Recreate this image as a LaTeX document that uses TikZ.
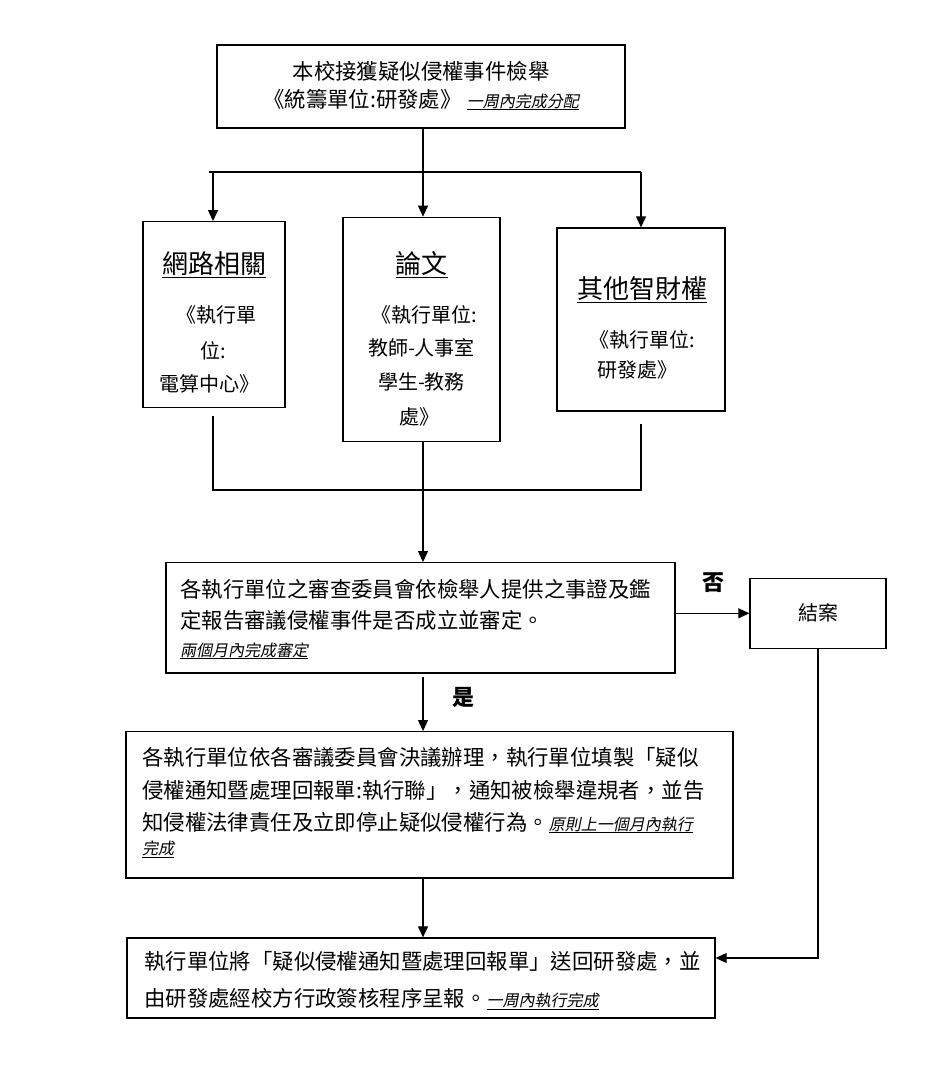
\documentclass[tikz,border=0pt]{standalone}
\usepackage{fontspec}
\setmainfont{Noto Sans CJK TC}
\newfontfamily\cjkit{Noto Sans CJK TC}[FakeSlant=0.2]
\usetikzlibrary{arrows.meta}
\newcommand\fsz[1]{\fontsize{#1}{#1}\selectfont}
\newcommand\uline[2][0.9pt]{\setbox0=\hbox{#2}\leavevmode\rlap{\raisebox{-0.2em}{\rule{\wd0}{#1}}}\box0}
\newcommand\notetext[1]{{\cjkit\fsz{16}\uline{#1}}}
\begin{document}
\begin{tikzpicture}[x=1pt,y=-1pt,
  box/.style={draw=black, line width=1.3pt, inner sep=0pt},
  conn/.style={draw=black, line width=1.1pt},
  arr/.style={conn, -{Triangle[width=10pt,length=11pt]}},
  ltxt/.style={inner sep=0pt, anchor=base west, font=\fsz{21.4}},
  ctxt/.style={inner sep=0pt, anchor=base, font=\fsz{20}},
  head/.style={inner sep=0pt, anchor=base, font=\fsz{26}},
  lbl/.style={inner sep=0pt, anchor=base, font=\fsz{22}\bfseries}]
\useasboundingbox (0,0) rectangle (932,1065);

% boxes
\node[box, line width=1.8pt, minimum width=408pt, minimum height=83pt] (top) at (421,86.5) {};
\node[box, minimum width=142pt, minimum height=185.6pt] (left) at (214,314.5) {};
\node[box, minimum width=157pt, minimum height=224.4pt] (cent) at (421.5,329.5) {};
\node[box, minimum width=168pt, minimum height=183pt] (right) at (641,319.5) {};
\node[box, minimum width=509pt, minimum height=110.3pt] (mid) at (420.5,617.85) {};
\node[box, minimum width=136pt, minimum height=70pt] (close) at (818,613.3) {};
\node[box, minimum width=607pt, minimum height=146.3pt] (act) at (429.5,804.85) {};
\node[box, minimum width=588pt, minimum height=80pt] (final) at (421,978) {};

% top box text
\node[ctxt, font=\fsz{21.4}] (t1) at (421,80) {本校接獲疑似侵權事件檢舉};
\node[ctxt, font=\fsz{21.4}] (t2) at (421,107) {《統籌單位:研發處》\hspace{5pt}\notetext{一周內完成分配}};

% left box text
\node[head] (l1) at (214,273.2) {\uline[1.8pt]{網路相關}};
\node[ctxt] (l2) at (216,322.6) {《執行單};
\node[ctxt] (l3) at (213,358.6) {位:};
\node[ctxt] (l4) at (209,391.6) {電算中心》};

% center box text
\node[head] (c1) at (421.5,273.2) {\uline[1.8pt]{論文}};
\node[ctxt] (c2) at (424,322.6) {《執行單位:};
\node[ctxt] (c3) at (421.5,355.9) {教師-人事室};
\node[ctxt] (c4) at (421.5,389.3) {學生-教務};
\node[ctxt] (c5) at (419,424.3) {處》};

% right box text
\node[head] (r1) at (642,298.2) {\uline[1.8pt]{其他智財權}};
\node[ctxt] (r2) at (642,347.6) {《執行單位:};
\node[ctxt] (r3) at (637,377.6) {研發處》};

% middle box text
\node[ltxt] (m1) at (180,597.4) {各執行單位之審查委員會依檢舉人提供之事證及鑑};
\node[ltxt] (m2) at (180,628.1) {定報告審議侵權事件是否成立並審定。};
\node[ltxt] (m3) at (180,656) {\notetext{兩個月內完成審定}};

% close box text
\node[ctxt] (k1) at (818,620.6) {結案};

% action box text
\node[ltxt] (a1) at (142,765.1) {各執行單位依各審議委員會決議辦理，執行單位填製「疑似};
\node[ltxt] (a2) at (142,798.1) {侵權通知暨處理回報單:執行聯」，通知被檢舉違規者，並告};
\node[ltxt] (a3) at (142,830.1) {知侵權法律責任及立即停止疑似侵權行為。\notetext{原則上一個月內執行}};
\node[ltxt] (a4) at (142,854.4) {\notetext{完成}};

% final box text
\node[ltxt] (f1) at (144,969.8) {執行單位將「疑似侵權通知暨處理回報單」送回研發處，並};
\node[ltxt] (f2) at (144,1006.4) {由研發處經校方行政簽核程序呈報。\notetext{一周內執行完成}};

% labels
\node[lbl] (no) at (713,590) {否};
\node[lbl] (yes) at (463,705) {是};

% connectors
\coordinate (jt) at (423,172);
\coordinate (jl) at (213,172);
\coordinate (jr) at (641,172);
\draw[conn] (top.south -| jt) -- (jt);
\draw[conn, line width=1.8pt] ([xshift=-4pt]jl) -- (jr);
\draw[arr] (jl) -- (jl |- left.north);
\draw[arr] (jt) -- (jt |- cent.north);
\draw[arr] (jr) -- (jr |- right.north);

\coordinate (bl) at (213,490);
\coordinate (br) at (641,490);
\coordinate (bc) at (423,490);
\draw[conn] ([yshift=-8pt]left.south -| bl) -- (bl) -- (br) -- ([yshift=-12pt]right.south -| br);
\draw[arr] (cent.south -| bc) -- (mid.north -| bc);
\draw[arr] (mid.east |- close.west) -- (close.west);
\draw[arr] ([yshift=-3pt]mid.south -| bc) -- (act.north -| bc);
\draw[arr] (act.south -| bc) -- (final.north -| bc);
\coordinate (cc) at (818,958);
\draw[arr] (close.south) -- (cc) -- (final.east |- cc);
\end{tikzpicture}
\end{document}
